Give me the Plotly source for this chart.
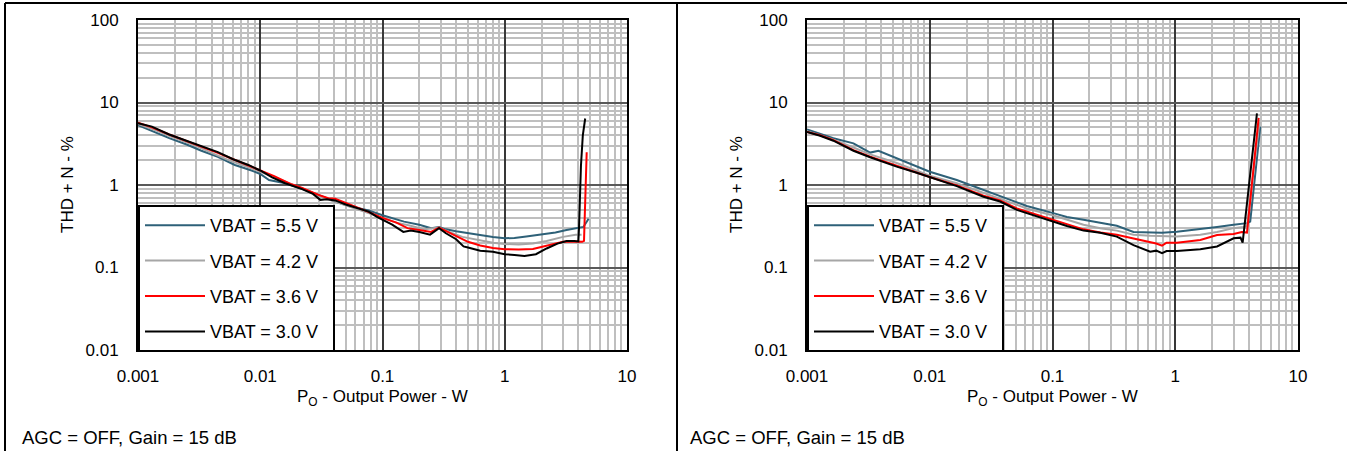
import plotly.graph_objects as go

W, H = 1347, 451
FONT = "Liberation Sans, Arial, sans-serif"

# ---------------- data ----------------
series_names = ["VBAT = 5.5 V\u00a0\u00a0", "VBAT = 4.2 V\u00a0\u00a0", "VBAT = 3.6 V\u00a0\u00a0", "VBAT = 3.0 V\u00a0\u00a0"]
series_colors = ["#2E6178", "#A6A6A6", "#FF0000", "#000000"]

x_tickvals = [0.001, 0.01, 0.1, 1, 10]
x_ticktext = ["0.001", "0.01", "0.1", "1", "10"]
y_tickvals = [0.01, 0.1, 1, 10, 100]
y_ticktext = ["0.01", "0.1", "1", "10", "100"]

# Left panel
L55_p = [0.001, 0.0013, 0.0018, 0.0025, 0.0033, 0.0045, 0.0062, 0.0085, 0.010, 0.0118, 0.013, 0.016,
         0.022, 0.03, 0.041, 0.055, 0.077, 0.1, 0.125, 0.15, 0.2, 0.25, 0.29, 0.33, 0.4, 0.5, 0.65,
         0.8, 1.0, 1.2, 1.5, 2.0, 2.6, 3.2, 4.0, 4.4, 4.85]
L55_t = [5.3, 4.5, 3.7, 3.1, 2.6, 2.2, 1.75, 1.5, 1.36, 1.15, 1.12, 1.05,
         0.9, 0.76, 0.63, 0.55, 0.49, 0.43, 0.39, 0.36, 0.33, 0.30, 0.31, 0.29, 0.275, 0.26, 0.245,
         0.235, 0.226, 0.228, 0.237, 0.25, 0.265, 0.285, 0.30, 0.31, 0.39]

L42_p = [0.001, 0.0014, 0.002, 0.0028, 0.004, 0.0055, 0.0075, 0.01, 0.013, 0.018, 0.025, 0.033,
         0.045, 0.06, 0.08, 0.1, 0.13, 0.17, 0.22, 0.29, 0.35, 0.45, 0.6, 0.8, 1.0, 1.3, 1.7, 2.2,
         3.0, 3.8, 4.25]
L42_t = [5.5, 4.6, 3.7, 3.1, 2.45, 2.0, 1.7, 1.45, 1.25, 1.02, 0.85, 0.7,
         0.6, 0.52, 0.45, 0.4, 0.35, 0.32, 0.29, 0.305, 0.27, 0.235, 0.215, 0.2, 0.193, 0.19, 0.195, 0.21,
         0.235, 0.25, 0.25]

L36_p = [0.001, 0.0013, 0.0018, 0.0025, 0.0033, 0.0045, 0.006, 0.008, 0.01, 0.013, 0.018, 0.022,
         0.03, 0.036, 0.041, 0.05, 0.065, 0.08, 0.1, 0.13, 0.16, 0.2, 0.25, 0.29, 0.34, 0.42, 0.5,
         0.63, 0.8, 1.0, 1.3, 1.7, 2.2, 3.0, 3.8, 4.3, 4.45, 4.55, 4.68]
L36_t = [5.7, 5.0, 4.1, 3.4, 2.95, 2.45, 2.05, 1.72, 1.52, 1.28, 1.02, 0.92,
         0.76, 0.69, 0.68, 0.6, 0.52, 0.46, 0.4, 0.35, 0.3, 0.285, 0.27, 0.305, 0.27, 0.23, 0.205,
         0.185, 0.172, 0.167, 0.165, 0.168, 0.185, 0.205, 0.207, 0.205, 0.21, 0.6, 2.5]

L30_p = [0.001, 0.0013, 0.0018, 0.0025, 0.0033, 0.0045, 0.006, 0.008, 0.01, 0.0125, 0.016, 0.022,
         0.027, 0.031, 0.035, 0.041, 0.05, 0.065, 0.077, 0.09, 0.1, 0.12, 0.148, 0.17, 0.2, 0.245,
         0.29, 0.33, 0.4, 0.46, 0.5, 0.63, 0.8, 0.9, 1.0, 1.2, 1.45, 1.8, 2.2, 2.7, 3.2, 3.7, 4.0,
         4.05, 4.2, 4.35, 4.55]
L30_t = [5.6, 5.1, 4.1, 3.45, 2.95, 2.5, 2.05, 1.75, 1.5, 1.24, 1.05, 0.89,
         0.78, 0.66, 0.67, 0.65, 0.58, 0.52, 0.475, 0.41, 0.38, 0.33, 0.27, 0.28, 0.27, 0.25,
         0.30, 0.26, 0.22, 0.18, 0.175, 0.16, 0.155, 0.148, 0.145, 0.142, 0.138, 0.145, 0.17, 0.195, 0.21, 0.21, 0.207,
         0.3, 1.7, 4.0, 6.4]

# Right panel
R55_p = [0.001, 0.00128, 0.00164, 0.00239, 0.00327, 0.00382, 0.00538, 0.00783, 0.01, 0.0166, 0.0274,
         0.0374, 0.0617, 0.105, 0.131, 0.179, 0.245, 0.334, 0.457, 0.625, 0.78, 1.03, 1.6, 2.19, 2.99,
         3.84, 4.08, 4.93]
R55_t = [4.7, 4.2, 3.68, 3.2, 2.47, 2.6, 2.1, 1.67, 1.45, 1.15, 0.87,
         0.72, 0.556, 0.45, 0.41, 0.38, 0.35, 0.32, 0.27, 0.268, 0.264, 0.272, 0.29, 0.31, 0.33,
         0.345, 0.36, 5.1]

R42_p = [0.001, 0.00164, 0.00239, 0.00327, 0.00538, 0.00783, 0.01, 0.0166, 0.0274, 0.0374, 0.0617,
         0.105, 0.179, 0.245, 0.334, 0.457, 0.625, 1.03, 1.6, 2.19, 2.99, 3.6, 3.84, 4.85]
R42_t = [4.5, 3.55, 2.85, 2.35, 1.85, 1.5, 1.3, 1.05, 0.8, 0.67, 0.52,
         0.42, 0.33, 0.3, 0.28, 0.25, 0.242, 0.237, 0.25, 0.27, 0.3, 0.31, 0.32, 5.8]

R36_p = [0.001, 0.00128, 0.00164, 0.00239, 0.00327, 0.00538, 0.00783, 0.01, 0.0166, 0.0274, 0.0374,
         0.0512, 0.070, 0.105, 0.131, 0.179, 0.245, 0.334, 0.457, 0.625, 0.70, 0.78, 0.85, 1.03, 1.6,
         2.19, 2.99, 3.49, 3.84, 4.78]
R36_t = [4.4, 4.0, 3.5, 2.65, 2.2, 1.7, 1.43, 1.25, 0.99, 0.74, 0.65,
         0.52, 0.45, 0.37, 0.33, 0.29, 0.265, 0.25, 0.225, 0.205, 0.195, 0.184, 0.2, 0.2, 0.215,
         0.248, 0.255, 0.27, 0.265, 6.5]

R30_p = [0.001, 0.00128, 0.00164, 0.00239, 0.00327, 0.00538, 0.00783, 0.01, 0.0166, 0.0274, 0.0374,
         0.0512, 0.070, 0.105, 0.131, 0.179, 0.245, 0.334, 0.457, 0.625, 0.70, 0.78, 0.85, 1.03, 1.6,
         2.19, 2.99, 3.4, 3.54, 4.63]
R30_t = [4.4, 3.95, 3.44, 2.6, 2.17, 1.67, 1.41, 1.24, 0.97, 0.72, 0.63,
         0.5, 0.43, 0.36, 0.318, 0.28, 0.264, 0.237, 0.187, 0.155, 0.16, 0.149, 0.158, 0.158, 0.166,
         0.18, 0.226, 0.23, 0.2, 7.4]

x_title = "P<sub>O</sub> - Output Power - W"
y_title = "THD + N - %"
note_text = "AGC = OFF, Gain = 15 dB"

left_series = [(L55_p, L55_t), (L42_p, L42_t), (L36_p, L36_t), (L30_p, L30_t)]
right_series = [(R55_p, R55_t), (R42_p, R42_t), (R36_p, R36_t), (R30_p, R30_t)]

# ---------------- figure ----------------
fig = go.Figure()

for i, (px, ty) in enumerate(left_series):
    fig.add_trace(go.Scatter(x=px, y=ty, mode="lines", name=series_names[i],
                             line=dict(color=series_colors[i], width=2),
                             xaxis="x", yaxis="y", legend="legend",
                             legendgroup="L%d" % i))
for i, (px, ty) in enumerate(right_series):
    fig.add_trace(go.Scatter(x=px, y=ty, mode="lines", name=series_names[i],
                             line=dict(color=series_colors[i], width=2),
                             xaxis="x2", yaxis="y2", legend="legend2",
                             legendgroup="R%d" % i))

def px_x(v):
    return v / W

def px_y(v):
    return 1 - v / H

plot_top, plot_bot = 20, 350
panels = [(138, 627), (807, 1298)]

tickfont = dict(family=FONT, size=17, color="black")

def xaxis_cfg(dom, anchor):
    return dict(type="log", range=[-3, 1], domain=[px_x(dom[0]), px_x(dom[1])], anchor=anchor,
                tickmode="array", tickvals=x_tickvals, ticktext=x_ticktext,
                showgrid=True, gridcolor="#383838", gridwidth=1.5,
                minor=dict(dtick="D1", showgrid=True, gridcolor="#BFBFBF", gridwidth=2, ticks=""),
                showline=True, linecolor="black", linewidth=2, mirror=True, automargin=False,
                ticks="", tickfont=tickfont, ticklabelstandoff=10, zeroline=False)

def yaxis_cfg(anchor):
    return dict(type="log", range=[-2, 2], domain=[px_y(plot_bot), px_y(plot_top)], anchor=anchor,
                tickmode="array", tickvals=y_tickvals, ticktext=y_ticktext,
                showgrid=True, gridcolor="#595959", gridwidth=2,
                minor=dict(dtick="D1", showgrid=True, gridcolor="#BFBFBF", gridwidth=2, ticks=""),
                showline=True, linecolor="black", linewidth=2, mirror=True, automargin=False,
                ticks="", tickfont=tickfont, ticklabelstandoff=14, zeroline=False)

legend_common = dict(bordercolor="black", borderwidth=2, bgcolor="white",
                     font=dict(family=FONT, size=18, color="black"),
                     xanchor="left", yanchor="bottom", tracegroupgap=9, itemwidth=60,
                     itemclick=False, itemdoubleclick=False)

fig.update_layout(
    width=W, height=H,
    margin=dict(l=0, r=0, t=0, b=0, pad=0, autoexpand=False),
    paper_bgcolor="white", plot_bgcolor="white",
    font=dict(family=FONT, color="black"),
    xaxis=xaxis_cfg(panels[0], "y"),
    yaxis=yaxis_cfg("x"),
    xaxis2=xaxis_cfg(panels[1], "y2"),
    yaxis2=yaxis_cfg("x2"),
    legend=dict(x=px_x(panels[0][0]), y=px_y(plot_bot + 2), **legend_common),
    legend2=dict(x=px_x(panels[1][0]), y=px_y(plot_bot + 2), **legend_common),
    showlegend=True,
)

annotations = []
for (x0, x1), ytx, notex in zip(panels, [68, 737], [20, 688]):
    annotations.append(dict(text=x_title, x=px_x((x0 + x1) / 2), y=px_y(398), xref="paper", yref="paper",
                            showarrow=False, xanchor="center", yanchor="middle",
                            font=dict(family=FONT, size=17, color="black")))
    annotations.append(dict(text=y_title, x=px_x(ytx), y=px_y((plot_top + plot_bot) / 2), xref="paper",
                            yref="paper", showarrow=False, textangle=-90, xanchor="center",
                            yanchor="middle", font=dict(family=FONT, size=17, color="black")))
    annotations.append(dict(text=note_text, x=px_x(notex), y=px_y(437), xref="paper", yref="paper",
                            showarrow=False, xanchor="left", yanchor="middle",
                            font=dict(family=FONT, size=18.5, color="black")))
fig.update_layout(annotations=annotations)

# outer panel frame lines
frame = dict(color="black", width=2)
fig.add_shape(type="line", xref="paper", yref="paper", x0=px_x(5), x1=1, y0=px_y(3), y1=px_y(3), line=frame)
fig.add_shape(type="line", xref="paper", yref="paper", x0=px_x(5), x1=px_x(5), y0=px_y(3), y1=0, line=frame)
fig.add_shape(type="line", xref="paper", yref="paper", x0=px_x(677), x1=px_x(677), y0=px_y(3), y1=0, line=frame)

fig.write_html("out.html", config={"displayModeBar": False},
               post_script="document.body.style.margin='0px';document.body.style.overflow='hidden';")
